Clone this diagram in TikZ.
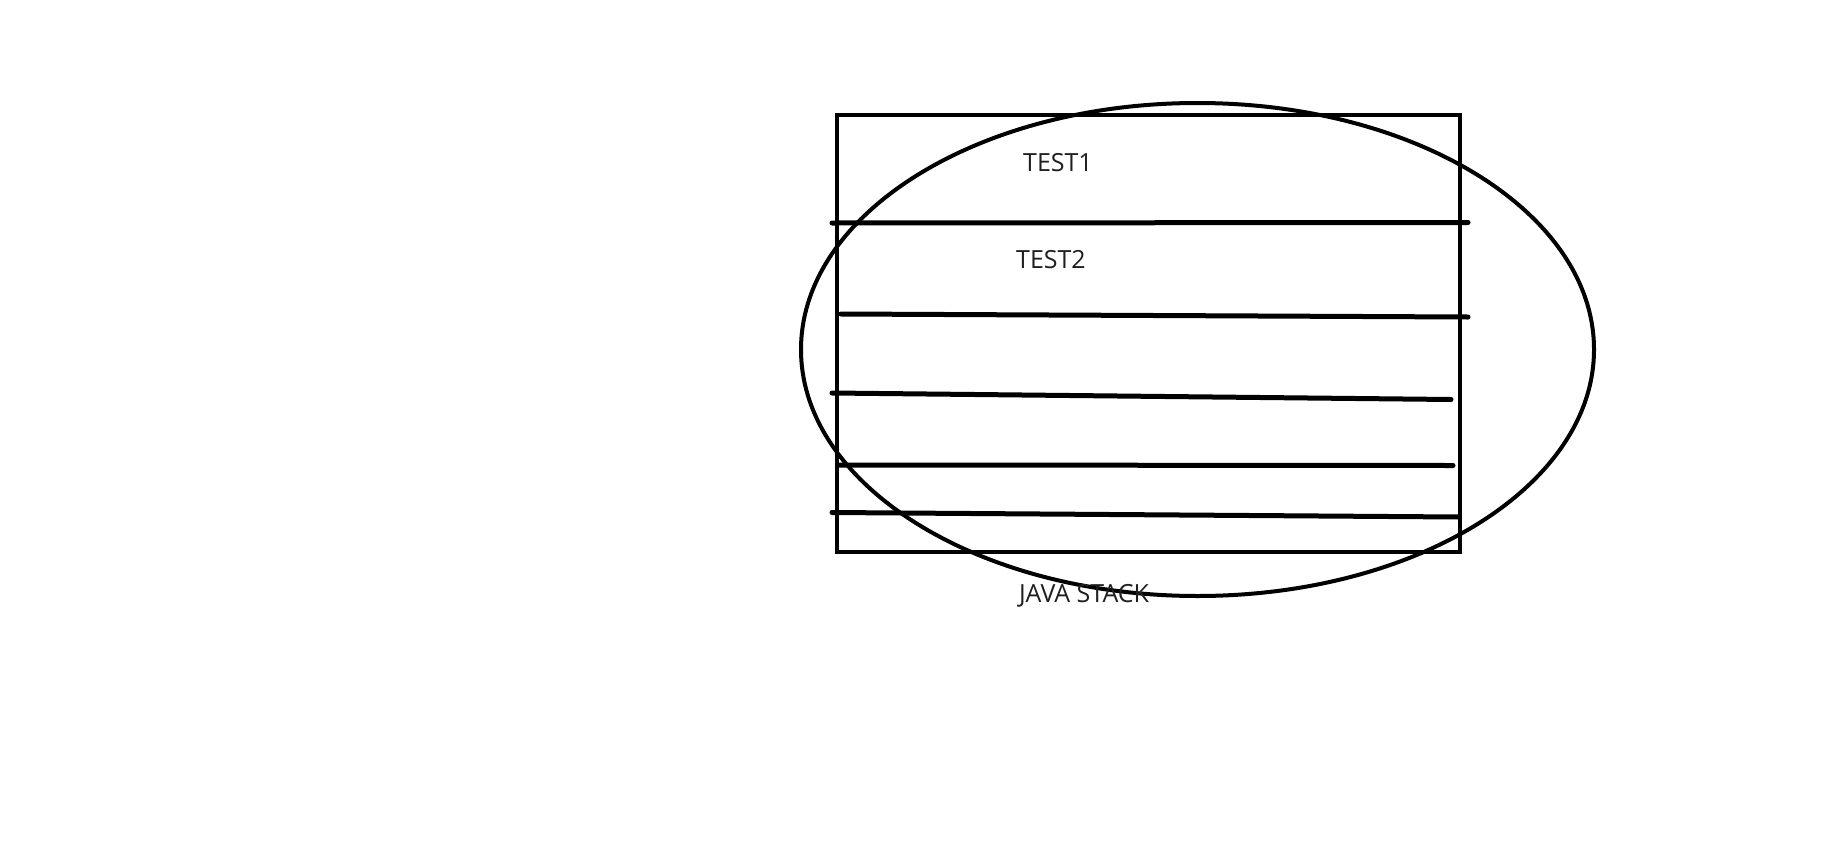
\documentclass[tikz,border=0pt]{standalone}
\usepackage{fontspec}
\setmainfont{Open Sans}
\usetikzlibrary{calc}
\tikzset{
	frame/.style={line width=4.6pt},
	slot/.style={line width=5pt, line cap=round},
	oval/.style={line width=4pt},
	label/.style={text=black!88, font=\fontsize{25}{30}\selectfont, anchor=base, inner sep=0pt}
}

\begin{document}
\begin{tikzpicture}[x=1pt, y=-1pt]
			%%%%% START %%%%%
			
			\useasboundingbox (0, 0) rectangle (1831, 846);
			
			\draw[frame] (837, 115) rectangle (1460, 552);
			
			\draw[slot] (832, 223) -- (1468, 222.5);
			\draw[slot] (841, 314) -- (1468, 317);
			\draw[slot] (832, 393) -- (1451, 399.5);
			\draw[slot] (839, 465) -- (1453, 465.5);
			\draw[slot] (832, 512.5) -- (1459, 517);
			
			\draw[oval] (1197.5, 349.5) ellipse (396.5 and 246.5);
			
			\node[label] (test1) at (1058, 171.5) {TEST1};
			\node[label] (test2) at (1051, 268.5) {TEST2};
			\node[label] (stack) at (1084, 602.5) {JAVA STACK};
			
			%%%%% END %%%%%
		\end{tikzpicture}
\end{document}
